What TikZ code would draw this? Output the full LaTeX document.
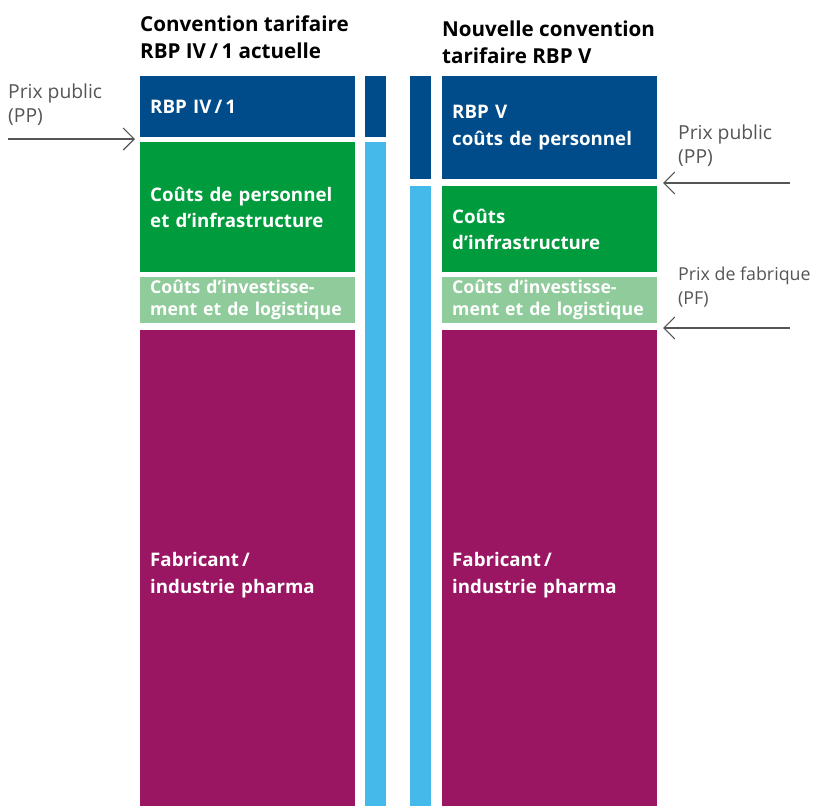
\documentclass[tikz,border=0pt]{standalone}
\usepackage{fontspec}
\setmainfont{Open Sans}
\usetikzlibrary{arrows.meta}
\definecolor{dblue}{RGB}{0,76,138}
\definecolor{mgreen}{RGB}{0,155,60}
\definecolor{lgreen}{RGB}{143,203,155}
\definecolor{magent}{RGB}{155,22,98}
\definecolor{lblue}{RGB}{70,185,235}
\definecolor{lblgray}{RGB}{85,85,85}
\begin{document}
\begin{tikzpicture}[x=1pt,y=-1pt,
  box/.style={anchor=north west, inner xsep=10pt, inner ysep=0pt, text width=195pt,
    minimum width=215pt, align=left, text=white,
    font=\fontsize{18.7}{26.5}\selectfont\bfseries},
  tight/.style={font=\fontsize{17.7}{22}\selectfont\bfseries},
  bar/.style={anchor=north west, inner sep=0pt, minimum width=21pt},
  title/.style={anchor=base west, inner sep=0pt, align=left,
    font=\fontsize{20.6}{27}\selectfont\bfseries},
  lbl/.style={anchor=base west, inner sep=0pt, align=left, text=lblgray,
    font=\fontsize{19.3}{24}\selectfont},
  arr/.style={draw=lblgray, line width=1.1pt, -{Straight Barb[length=11pt,width=22pt]}}
]
\useasboundingbox (0,0) rectangle (815,806);
% titles (anchor at baseline of last line)
\node[title] (tl) at (140,58) {Convention tarifaire\\RBP IV\,/\,1 actuelle};
\node[title] (tr) at (442,63) {Nouvelle convention\\tarifaire RBP V};
% left column
\node[box, fill=dblue, minimum height=61pt] (lrbp) at (140,76) {RBP IV\,/\,1};
\node[box, fill=mgreen, minimum height=130pt] (lgr) at (140,142) {Coûts de personnel\\et d’infrastructure};
\node[box, tight, fill=lgreen, minimum height=46pt] (llg) at (140,277) {Coûts d’investisse-\\ment et de logistique};
\node[box, fill=magent, minimum height=490pt] (lmag) at (140,330) {Fabricant\,/\\industrie pharma};
% bars
\node[bar, fill=dblue, minimum height=61pt] (lb1) at (365,76) {};
\node[bar, fill=lblue, minimum height=664pt] (lb2) at (365,142) {};
\node[bar, fill=dblue, minimum height=103pt] (rb1) at (410,76) {};
\node[bar, fill=lblue, minimum height=620pt] (rb2) at (410,186) {};
% right column
\node[box, fill=dblue, minimum height=103pt] (rrbp) at (442,76) {RBP V\\coûts de personnel};
\node[box, fill=mgreen, minimum height=86pt] (rgr) at (442,186) {Coûts\\d’infrastructure};
\node[box, tight, fill=lgreen, minimum height=46pt] (rlg) at (442,277) {Coûts d’investisse-\\ment et de logistique};
\node[box, fill=magent, minimum height=490pt] (rmag) at (442,330) {Fabricant\,/\\industrie pharma};
% labels (anchor at baseline of last line)
\node[lbl] (lpp) at (8,122) {Prix public\\(PP)};
\node[lbl] (rpp) at (678,163) {Prix public\\(PP)};
\node[lbl, font=\fontsize{17.8}{24}\selectfont] (rpf) at (678,304) {Prix de fabrique\\(PF)};
% arrows
\coordinate (a1s) at (8,139); \coordinate (a1e) at (135,139);
\coordinate (a2s) at (790,183); \coordinate (a2e) at (663,183);
\coordinate (a3s) at (790,328); \coordinate (a3e) at (663,328);
\draw[arr] (a1s) -- (a1e);
\draw[arr] (a2s) -- (a2e);
\draw[arr] (a3s) -- (a3e);
\end{tikzpicture}
\end{document}
